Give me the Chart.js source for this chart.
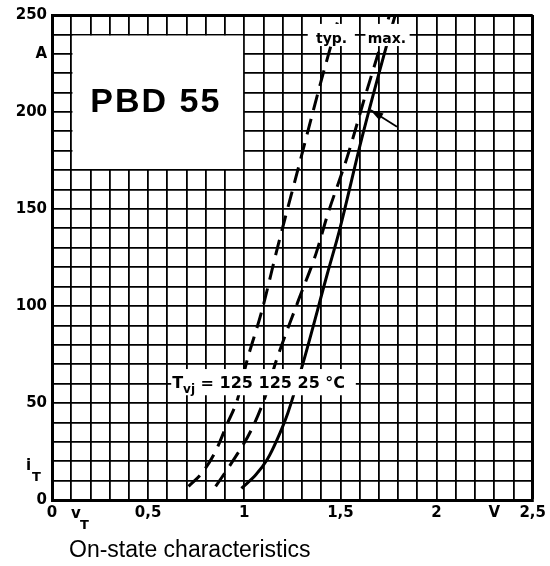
<!DOCTYPE html>
<html>
<head>
<meta charset="utf-8">
<script src="https://cdn.jsdelivr.net/npm/chart.js@4.4.0/dist/chart.umd.min.js"></script>
<style>
  body { margin: 0; background: #fff; }
  #wrap { width: 550px; height: 566px; }
</style>
</head>
<body>
<div id="wrap"><canvas id="onstate" width="550" height="566"></canvas></div>
<script>
// on-state curves (V, A)
var typ125V = [0.71, 0.78, 0.85, 0.91, 0.965, 1.012, 1.09, 1.175, 1.278, 1.397, 1.495];
var typ125A = [7, 14, 25, 39, 52, 71, 97, 131, 170, 215, 250];

var max125V = [0.851, 0.933, 1.036, 1.108, 1.167, 1.278, 1.373, 1.433, 1.536, 1.631, 1.708, 1.755];
var max125A = [7, 19, 36, 53, 72, 102, 127, 147, 177, 209, 234, 250];

var max25V = [0.985, 1.06, 1.12, 1.17, 1.227, 1.304, 1.433, 1.495, 1.61, 1.742, 1.785];
var max25A = [6, 13, 21, 31, 45, 70, 117, 139, 186, 235, 250];

var xTickVals = [0, 0.5, 1, 1.5, 2, 2.3, 2.5];
var xTickText = ['0', '0,5', '1', '1,5', '2', 'V', '2,5'];
var yTickVals = [0, 50, 100, 150, 200, 230, 250];
var yTickText = ['0', '50', '100', '150', '200', 'A', '250'];

function pts(xs, ys) {
  return xs.map(function (x, i) { return { x: x, y: ys[i] }; });
}

function lookup(v, vals, texts) {
  for (var i = 0; i < vals.length; i++) {
    if (Math.abs(vals[i] - v) < 1e-6) return texts[i];
  }
  return '';
}

// white label boxes, texts, arrow and axis symbols on top of the grid
var sheetLabels = {
  id: 'sheetLabels',
  afterDatasetsDraw: function (chart) {
    var ctx = chart.ctx;
    var xs = chart.scales.x, ys = chart.scales.y;
    function box(v0, v1, a0, a1, inset) {
      var x0 = xs.getPixelForValue(v0), x1 = xs.getPixelForValue(v1);
      var y0 = ys.getPixelForValue(a1), y1 = ys.getPixelForValue(a0);
      ctx.fillStyle = '#fff';
      ctx.fillRect(x0 + inset, y0 + inset, x1 - x0 - 2 * inset, y1 - y0 - 2 * inset);
    }
    ctx.save();
    box(0.1, 1.0, 170, 240, 1.2);
    box(1.33, 1.575, 234, 245.4, 0);
    box(1.63, 1.86, 234, 245.4, 0);
    box(0.62, 1.58, 54, 67.5, 0);

    ctx.fillStyle = '#000';
    ctx.textBaseline = 'alphabetic';

    // type name
    ctx.font = 'bold 34px "Liberation Sans"';
    ctx.textAlign = 'center';
    ctx.letterSpacing = '2px';
    ctx.fillText('PBD 55', xs.getPixelForValue(0.54), ys.getPixelForValue(200));
    ctx.letterSpacing = '0px';

    // typ. / max.
    ctx.font = 'bold 14px "DejaVu Sans"';
    ctx.fillText('typ.', xs.getPixelForValue(1.454), ys.getPixelForValue(235.6));
    ctx.fillText('max.', xs.getPixelForValue(1.742), ys.getPixelForValue(235.6));

    // Tvj = 125 125 25 °C
    ctx.textAlign = 'left';
    var tx = xs.getPixelForValue(0.625), ty = ys.getPixelForValue(57.5);
    var parts = [['T', 16, 0], ['vj', 12, 5], [' = 125 125 25 ', 16, 0], ['°C', 16, 0]];
    parts.forEach(function (p) {
      ctx.font = 'bold ' + p[1] + 'px "DejaVu Sans"';
      ctx.fillText(p[0], tx, ty + p[2]);
      tx += ctx.measureText(p[0]).width;
    });

    // arrow to the touching point of the max. curves
    var ax0 = xs.getPixelForValue(1.794), ay0 = ys.getPixelForValue(192.4);
    var ax1 = xs.getPixelForValue(1.656), ay1 = ys.getPixelForValue(201);
    var ang = Math.atan2(ay1 - ay0, ax1 - ax0);
    ctx.strokeStyle = '#000';
    ctx.lineWidth = 1.8;
    ctx.beginPath();
    ctx.moveTo(ax0, ay0);
    ctx.lineTo(ax1, ay1);
    ctx.stroke();
    ctx.beginPath();
    ctx.moveTo(ax1, ay1);
    ctx.lineTo(ax1 - 13 * Math.cos(ang) + 4 * Math.sin(ang), ay1 - 13 * Math.sin(ang) - 4 * Math.cos(ang));
    ctx.lineTo(ax1 - 13 * Math.cos(ang) - 4 * Math.sin(ang), ay1 - 13 * Math.sin(ang) + 4 * Math.cos(ang));
    ctx.closePath();
    ctx.fill();
    ctx.restore();
  },
  afterDraw: function (chart) {
    var ctx = chart.ctx;
    ctx.save();
    ctx.fillStyle = '#000';
    ctx.textAlign = 'left';
    ctx.textBaseline = 'alphabetic';
    // iT on the y axis, vT on the x axis
    ctx.font = 'bold 15px "DejaVu Sans"';
    ctx.fillText('i', 26, 470);
    ctx.fillText('v', 71, 518);
    ctx.font = 'bold 13px "DejaVu Sans"';
    ctx.fillText('T', 32, 481);
    ctx.fillText('T', 80, 529);
    // caption
    ctx.font = '23px "Liberation Sans"';
    ctx.fillText('On-state characteristics', 69, 557);
    ctx.restore();
  }
};

var lineStyle = {
  borderColor: '#000',
  borderWidth: 3,
  pointRadius: 0,
  showLine: true,
  fill: false,
  cubicInterpolationMode: 'monotone'
};

var onstatechart = document.getElementById('onstate');
var myChart = new Chart(onstatechart, {
  type: 'scatter',
  data: {
    datasets: [
      Object.assign({ label: 'typ. 125 °C', data: pts(typ125V, typ125A), borderDash: [16, 9] }, lineStyle),
      Object.assign({ label: 'max. 125 °C', data: pts(max125V, max125A), borderDash: [16, 9] }, lineStyle),
      Object.assign({ label: 'max. 25 °C', data: pts(max25V, max25A) }, lineStyle)
    ]
  },
  options: {
    responsive: false,
    animation: false,
    layout: { padding: { top: 15, right: 13, left: 0, bottom: 0 } },
    plugins: {
      legend: { display: false },
      tooltip: { enabled: false }
    },
    scales: {
      x: {
        type: 'linear',
        min: 0,
        max: 2.5,
        afterFit: function (s) { s.height = 66; },
        border: { display: true, color: '#000', width: 3 },
        grid: {
          color: '#000',
          drawTicks: false,
          lineWidth: function (c) { return c.tick && Math.abs(c.tick.value - 2.5) < 1e-6 ? 3 : 1.8; }
        },
        ticks: {
          stepSize: 0.1,
          autoSkip: false,
          maxRotation: 0,
          padding: 4,
          color: '#000',
          font: { family: 'DejaVu Sans', weight: 'bold', size: 15 },
          callback: function (v) { return lookup(Math.round(v * 10) / 10, xTickVals, xTickText); }
        }
      },
      y: {
        type: 'linear',
        min: 0,
        max: 250,
        afterFit: function (s) { s.width = 52; },
        border: { display: true, color: '#000', width: 3 },
        grid: {
          color: '#000',
          drawTicks: false,
          lineWidth: function (c) { return c.tick && c.tick.value === 250 ? 3 : 1.8; }
        },
        ticks: {
          stepSize: 10,
          autoSkip: false,
          padding: 5,
          color: '#000',
          font: { family: 'DejaVu Sans', weight: 'bold', size: 15 },
          callback: function (v) { return lookup(v, yTickVals, yTickText); }
        }
      }
    }
  },
  plugins: [sheetLabels]
});
</script>
</body>
</html>
